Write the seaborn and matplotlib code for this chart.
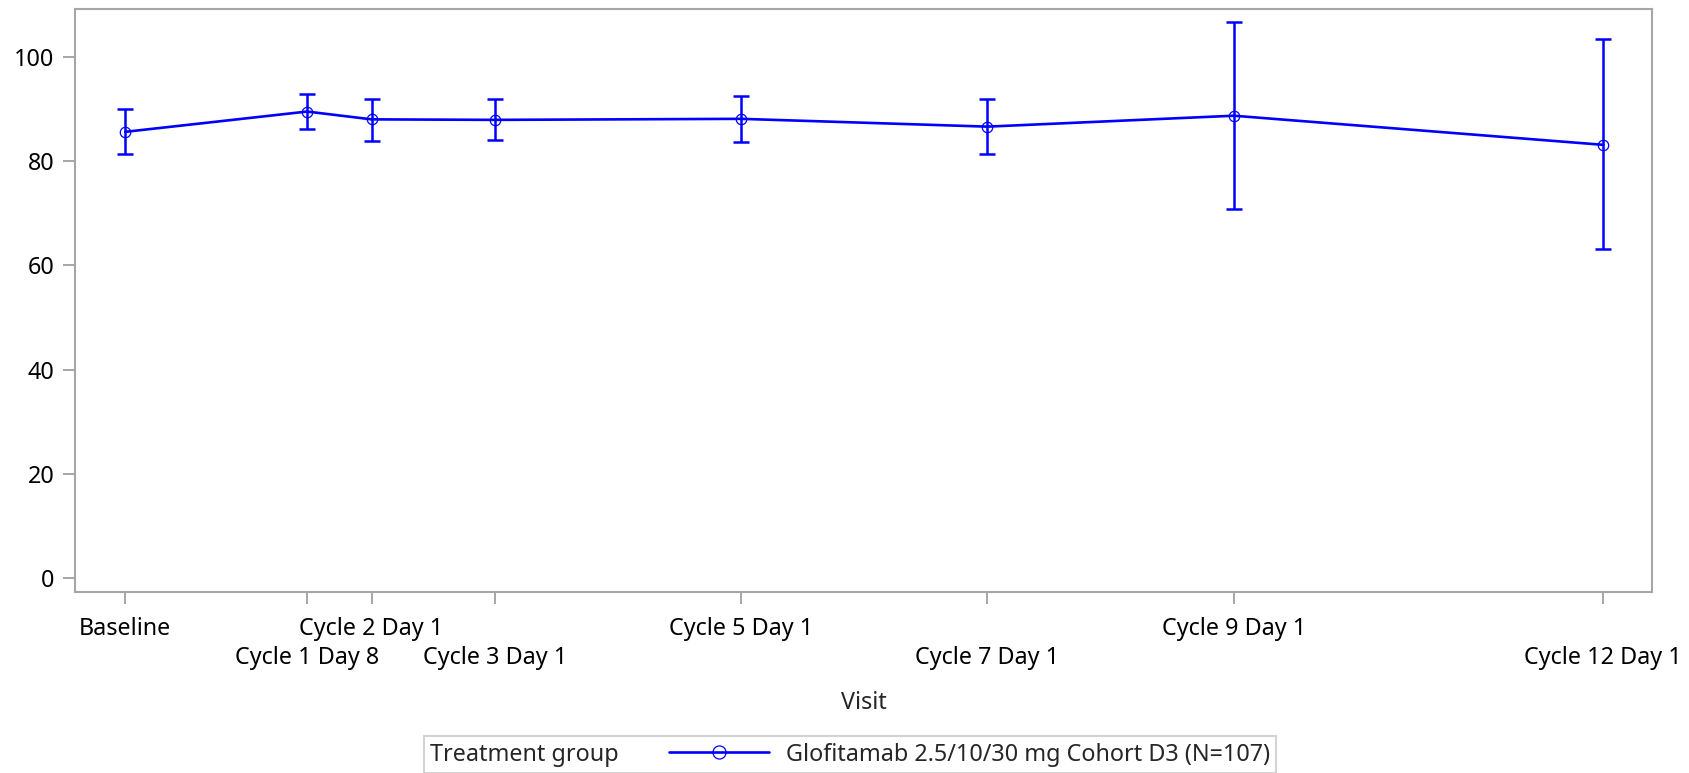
import matplotlib
matplotlib.use("Agg")
import matplotlib.pyplot as plt
import seaborn as sns
import pandas as pd
from matplotlib.offsetbox import HPacker
from matplotlib.lines import Line2D

# ---- data ----
visits = ["Baseline", "Cycle 1 Day 8", "Cycle 2 Day 1", "Cycle 3 Day 1",
          "Cycle 5 Day 1", "Cycle 7 Day 1", "Cycle 9 Day 1", "Cycle 12 Day 1"]
study_day = [-20, 11, 22, 43, 85, 127, 169, 232]
mean_val = [85.7, 89.6, 88.1, 88.0, 88.2, 86.7, 88.8, 83.2]
upper_ci = [90.1, 93.0, 92.1, 92.0, 92.6, 92.0, 106.9, 103.5]
lower_ci = [81.4, 86.2, 84.0, 84.2, 83.8, 81.4, 70.8, 63.2]
y_ticks = [0, 20, 40, 60, 80, 100]
group_label = "Glofitamab 2.5/10/30 mg Cohort D3 (N=107)"
legend_title = "Treatment group"
x_title = "Visit"

df = pd.DataFrame({"visit": visits, "day": study_day, "mean": mean_val,
                   "upper": upper_ci, "lower": lower_ci})

# ---- style ----
sns.set_style("ticks")
plt.rcParams["font.family"] = ["Noto Sans", "DejaVu Sans"]
FS = 16.8
GRAY = "#A6A6A6"
BLUE = "#0000FF"

fig = plt.figure(figsize=(16.9, 7.73), dpi=100)
ax = fig.add_axes([0.0446, 0.2347, 0.9775 - 0.0446, 0.9889 - 0.2347])

ax.errorbar(df["day"], df["mean"],
            yerr=[df["mean"] - df["lower"], df["upper"] - df["mean"]],
            fmt="none", ecolor=BLUE, elinewidth=1.8, capsize=6, capthick=1.8,
            zorder=2)
sns.lineplot(data=df, x="day", y="mean", ax=ax, color=BLUE, linewidth=1.9,
             marker="o", markersize=7.5, markerfacecolor="none",
             markeredgecolor=BLUE, markeredgewidth=0.9, zorder=3,
             label=group_label, legend=False)

ax.set_xlim(-28.5, 240.3)
ax.set_ylim(-2.7, 109.4)
ax.set_yticks(y_ticks)
ax.set_yticklabels([str(v) for v in y_ticks], fontsize=FS)

# staggered visit labels: first row as major ticks, second row as minor ticks
row1_days = df["day"].iloc[0::2].tolist()
row1_labels = df["visit"].iloc[0::2].tolist()
row2_days = df["day"].iloc[1::2].tolist()
row2_labels = df["visit"].iloc[1::2].tolist()
ax.set_xticks(row1_days)
ax.set_xticklabels(row1_labels, fontsize=FS)
ax.set_xticks(row2_days, minor=True)
ax.set_xticklabels(row2_labels, minor=True, fontsize=FS)
ax.set_xlabel(x_title, fontsize=FS, labelpad=15.5)
ax.set_ylabel("")

for s in ax.spines.values():
    s.set_visible(True)
    s.set_color(GRAY)
    s.set_linewidth(1.5)
ax.tick_params(axis="both", which="both", colors=GRAY, width=1.4, length=8.5,
               labelcolor="black")
ax.tick_params(axis="y", pad=6.5)
ax.tick_params(axis="x", which="major", pad=9.5)
ax.tick_params(axis="x", which="minor", pad=9.5 + 20.9)

# ---- legend (title at left of entries) ----
handle = Line2D([], [], color=BLUE, linewidth=1.9, marker="o", markersize=9.4,
                markerfacecolor="none", markeredgecolor=BLUE, markeredgewidth=0.9)
leg = fig.legend(handles=[handle], labels=[group_label], title=legend_title,
                 loc="lower left", bbox_to_anchor=(424 / 1690, 0.0),
                 fontsize=FS, title_fontsize=FS, frameon=True, fancybox=False,
                 borderpad=0.2, borderaxespad=0.0, handlelength=4.3,
                 handletextpad=0.69)
leg.get_frame().set_edgecolor("#C8C8C8")
leg.get_frame().set_linewidth(1.5)
fs_px = FS * 100 / 72
new_box = HPacker(pad=leg.borderpad * fs_px, sep=36, align="center",
                  children=[leg._legend_title_box, leg._legend_handle_box])
new_box.set_figure(fig)
leg._legend_box = new_box
leg._legend_box.set_offset(leg._findoffset)

fig.savefig("out.png", dpi=100, facecolor="white")
